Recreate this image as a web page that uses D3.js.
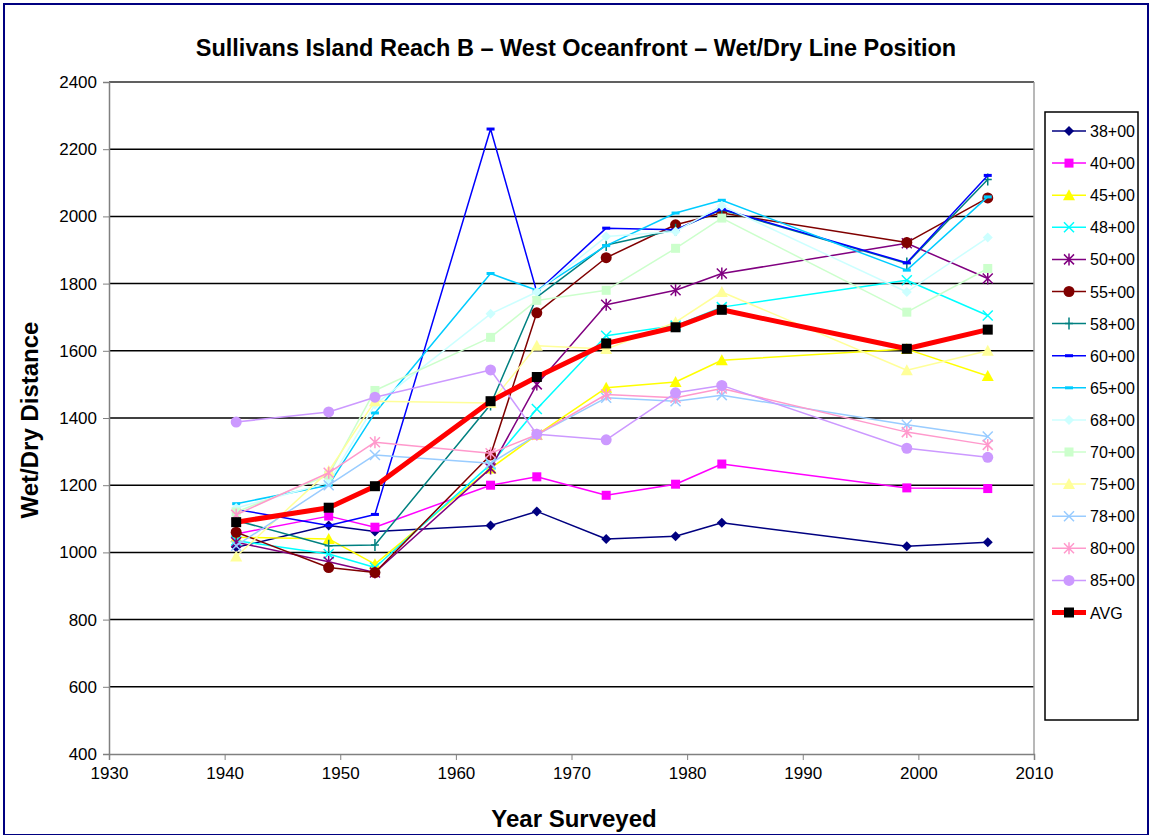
<!DOCTYPE html>
<html>
<head>
<meta charset="utf-8">
<script src="https://cdn.jsdelivr.net/npm/d3@7"></script>
<style>
  body { margin: 0; background: #fff; font-family: "Liberation Sans", Arial, sans-serif; }
</style>
</head>
<body>
<div id="chart"></div>
<script>
// survey years and one array per station
const years = [1941, 1949, 1953, 1963, 1967, 1973, 1979, 1983, 1999, 2006];

const s3800 = [1015, 1080, 1062, 1080, 1122, 1040, 1048, 1088, 1018, 1030];
const s4000 = [1055, 1108, 1075, 1200, 1225, 1170, 1203, 1263, 1192, 1190];
const s4500 = [1045, 1040, 965, 1250, 1350, 1490, 1507, 1572, 1605, 1525];
const s4800 = [1035, 995, 955, 1262, 1427, 1645, 1675, 1730, 1810, 1705];
const s5000 = [1030, 972, 940, 1250, 1500, 1737, 1780, 1830, 1920, 1815];
const s5500 = [1060, 955, 940, 1290, 1713, 1877, 1975, 2010, 1922, 2055];
const s5800 = [1095, 1020, 1022, 1440, 1760, 1915, 1960, 2020, 1860, 2110];
const s6000 = [1128, 1080, 1113, 2260, 1775, 1965, 1960, 2022, 1862, 2122];
const s6500 = [1145, 1200, 1415, 1830, 1780, 1913, 2010, 2048, 1840, 2058];
const s6800 = [1132, 1208, 1440, 1710, 1775, 1940, 1955, 2032, 1775, 1937];
const s7000 = [1120, 1230, 1482, 1640, 1750, 1780, 1905, 1995, 1715, 1845];
const s7500 = [988, 1242, 1450, 1445, 1615, 1605, 1685, 1775, 1542, 1600];
const s7800 = [1020, 1200, 1290, 1265, 1350, 1460, 1450, 1468, 1380, 1345];
const s8000 = [1112, 1237, 1328, 1295, 1350, 1470, 1460, 1488, 1358, 1320];
const s8500 = [1388, 1418, 1462, 1543, 1352, 1335, 1475, 1497, 1310, 1283];
const avg   = [1090, 1133, 1197, 1450, 1522, 1622, 1670, 1722, 1606, 1663];

const yTicks = [400, 600, 800, 1000, 1200, 1400, 1600, 1800, 2000, 2200, 2400];
const xTicks = [1930, 1940, 1950, 1960, 1970, 1980, 1990, 2000, 2010];

const series = [
  {name: "38+00", values: s3800, color: "#000080", symbol: "diamond", kind: "fill"},
  {name: "40+00", values: s4000, color: "#ff00ff", symbol: "square", kind: "fill"},
  {name: "45+00", values: s4500, color: "#ffff00", symbol: "triangle", kind: "fill"},
  {name: "48+00", values: s4800, color: "#00ffff", symbol: "x", kind: "stroke"},
  {name: "50+00", values: s5000, color: "#800080", symbol: "star", kind: "stroke"},
  {name: "55+00", values: s5500, color: "#800000", symbol: "circle", kind: "fill"},
  {name: "58+00", values: s5800, color: "#008080", symbol: "plus", kind: "stroke"},
  {name: "60+00", values: s6000, color: "#0000ff", symbol: "dash", kind: "stroke"},
  {name: "65+00", values: s6500, color: "#00ccff", symbol: "dash", kind: "stroke"},
  {name: "68+00", values: s6800, color: "#ccffff", symbol: "diamond", kind: "fill"},
  {name: "70+00", values: s7000, color: "#ccffcc", symbol: "square", kind: "fill"},
  {name: "75+00", values: s7500, color: "#ffff99", symbol: "triangle", kind: "fill"},
  {name: "78+00", values: s7800, color: "#99ccff", symbol: "x", kind: "stroke"},
  {name: "80+00", values: s8000, color: "#ff99cc", symbol: "star", kind: "stroke"},
  {name: "85+00", values: s8500, color: "#cc99ff", symbol: "circle", kind: "fill"},
  {name: "AVG", values: avg, color: "#ff0000", symbol: "square", kind: "avg"}
];

const W = 1151, H = 835;
const plot = {left: 109, top: 82, right: 1034, bottom: 754};

const svg = d3.select("#chart").append("svg")
    .attr("width", W)
    .attr("height", H)
    .style("font-family", "'Liberation Sans', Arial, sans-serif");

// outer frame
svg.append("rect")
    .attr("x", 4).attr("y", 4)
    .attr("width", W - 7).attr("height", H - 4)
    .attr("fill", "#fff")
    .attr("stroke", "#000080")
    .attr("stroke-width", 2);

const x = d3.scaleLinear().domain([1930, 2010]).range([plot.left, plot.right]);
const y = d3.scaleLinear().domain([400, 2400]).range([plot.bottom, plot.top]);

// gridlines
svg.append("g")
    .selectAll("line")
    .data(yTicks.slice(1))
    .join("line")
        .attr("x1", plot.left).attr("x2", plot.right)
        .attr("y1", d => y(d)).attr("y2", d => y(d))
        .attr("stroke", "#000")
        .attr("stroke-width", 1.5);

// plot frame (right side light grey)
svg.append("line")
    .attr("x1", plot.right).attr("x2", plot.right)
    .attr("y1", plot.top).attr("y2", plot.bottom)
    .attr("stroke", "#a0a0a0").attr("stroke-width", 1.5);
svg.append("line")
    .attr("x1", plot.left).attr("x2", plot.right)
    .attr("y1", plot.top).attr("y2", plot.top)
    .attr("stroke", "#808080").attr("stroke-width", 1);

// axes
const yAxis = svg.append("g")
    .attr("transform", `translate(${plot.left},0)`)
    .call(d3.axisLeft(y).tickValues(yTicks).tickSize(6).tickPadding(6).tickFormat(d3.format("d")));
const xAxis = svg.append("g")
    .attr("transform", `translate(0,${plot.bottom})`)
    .call(d3.axisBottom(x).tickValues(xTicks).tickSize(6).tickPadding(7).tickFormat(d3.format("d")));

[yAxis, xAxis].forEach(g => {
  g.select(".domain").attr("stroke", "#808080").attr("stroke-width", 1.5);
  g.selectAll(".tick line").attr("stroke", "#808080");
  g.selectAll("text")
      .style("font-size", "17px")
      .style("font-family", "'Liberation Sans', Arial, sans-serif")
      .attr("fill", "#000");
});

// marker drawing
function marker(sel, s) {
  const c = s.color;
  if (s.kind === "avg") {
    sel.append("rect")
        .attr("x", -5).attr("y", -5).attr("width", 10).attr("height", 10)
        .attr("fill", "#000");
    return;
  }
  if (s.symbol === "x") {
    sel.append("path")
        .attr("d", "M-5,-5L5,5M-5,5L5,-5")
        .attr("stroke", c).attr("stroke-width", 1.5).attr("fill", "none");
  } else if (s.symbol === "star") {
    sel.append("path")
        .attr("d", "M-5,-5L5,5M-5,5L5,-5M0,-6L0,6")
        .attr("stroke", c).attr("stroke-width", 1.5).attr("fill", "none");
  } else if (s.symbol === "plus") {
    sel.append("path")
        .attr("d", "M0,-6L0,6M-4,0L4,0")
        .attr("stroke", c).attr("stroke-width", 1.5).attr("fill", "none");
  } else if (s.symbol === "dash") {
    sel.append("rect")
        .attr("x", -4).attr("y", -1.5).attr("width", 8).attr("height", 3)
        .attr("fill", c);
  } else if (s.symbol === "diamond") {
    sel.append("path").attr("d", "M0,-5L5,0L0,5L-5,0Z").attr("fill", c);
  } else if (s.symbol === "square") {
    sel.append("rect")
        .attr("x", -4.5).attr("y", -4.5).attr("width", 9).attr("height", 9)
        .attr("fill", c);
  } else if (s.symbol === "triangle") {
    sel.append("path").attr("d", "M0,-6L6,5L-6,5Z").attr("fill", c);
  } else {
    sel.append("circle").attr("r", 5.5).attr("fill", c);
  }
}

const line = d3.line()
    .x((d, i) => x(years[i]))
    .y(d => y(d));

const seriesG = svg.append("g");

series.forEach(s => {
  const g = seriesG.append("g");
  g.append("path")
      .datum(s.values)
      .attr("d", line)
      .attr("fill", "none")
      .attr("stroke", s.color)
      .attr("stroke-width", s.kind === "avg" ? 5 : 1.5)
      .attr("stroke-linejoin", "round");
  g.selectAll("g.pt")
      .data(s.values)
      .join("g")
        .attr("class", "pt")
        .attr("transform", (d, i) => `translate(${x(years[i])},${y(d)})`)
        .each(function() { marker(d3.select(this), s); });
});

// title
svg.append("text")
    .attr("x", 576).attr("y", 56)
    .attr("text-anchor", "middle")
    .style("font-size", "23.5px")
    .style("font-weight", "bold")
    .text("Sullivans Island Reach B – West Oceanfront – Wet/Dry Line Position");

// axis titles
svg.append("text")
    .attr("transform", `translate(38,${(plot.top + plot.bottom) / 2 + 2}) rotate(-90)`)
    .attr("text-anchor", "middle")
    .style("font-size", "24px")
    .style("font-weight", "bold")
    .text("Wet/Dry Distance");

svg.append("text")
    .attr("x", 574).attr("y", 827)
    .attr("text-anchor", "middle")
    .style("font-size", "24px")
    .style("font-weight", "bold")
    .text("Year Surveyed");

// legend
const legend = svg.append("g").attr("transform", "translate(1045,112)");
legend.append("rect")
    .attr("width", 93).attr("height", 608)
    .attr("fill", "#fff")
    .attr("stroke", "#000").attr("stroke-width", 1.5);

const legendItems = legend.selectAll("g.item")
    .data(series)
    .join("g")
        .attr("class", "item")
        .attr("transform", (d, i) => `translate(0,${19 + i * 32.1})`);

legendItems.append("line")
    .attr("x1", 7).attr("x2", 41)
    .attr("stroke", d => d.color)
    .attr("stroke-width", d => d.kind === "avg" ? 5 : 1.5);

legendItems.append("g")
    .attr("transform", "translate(24,0)")
    .each(function(d) { marker(d3.select(this), d); });

legendItems.append("text")
    .attr("x", 45).attr("y", 6)
    .style("font-size", "16px")
    .text(d => d.name);
</script>
</body>
</html>
